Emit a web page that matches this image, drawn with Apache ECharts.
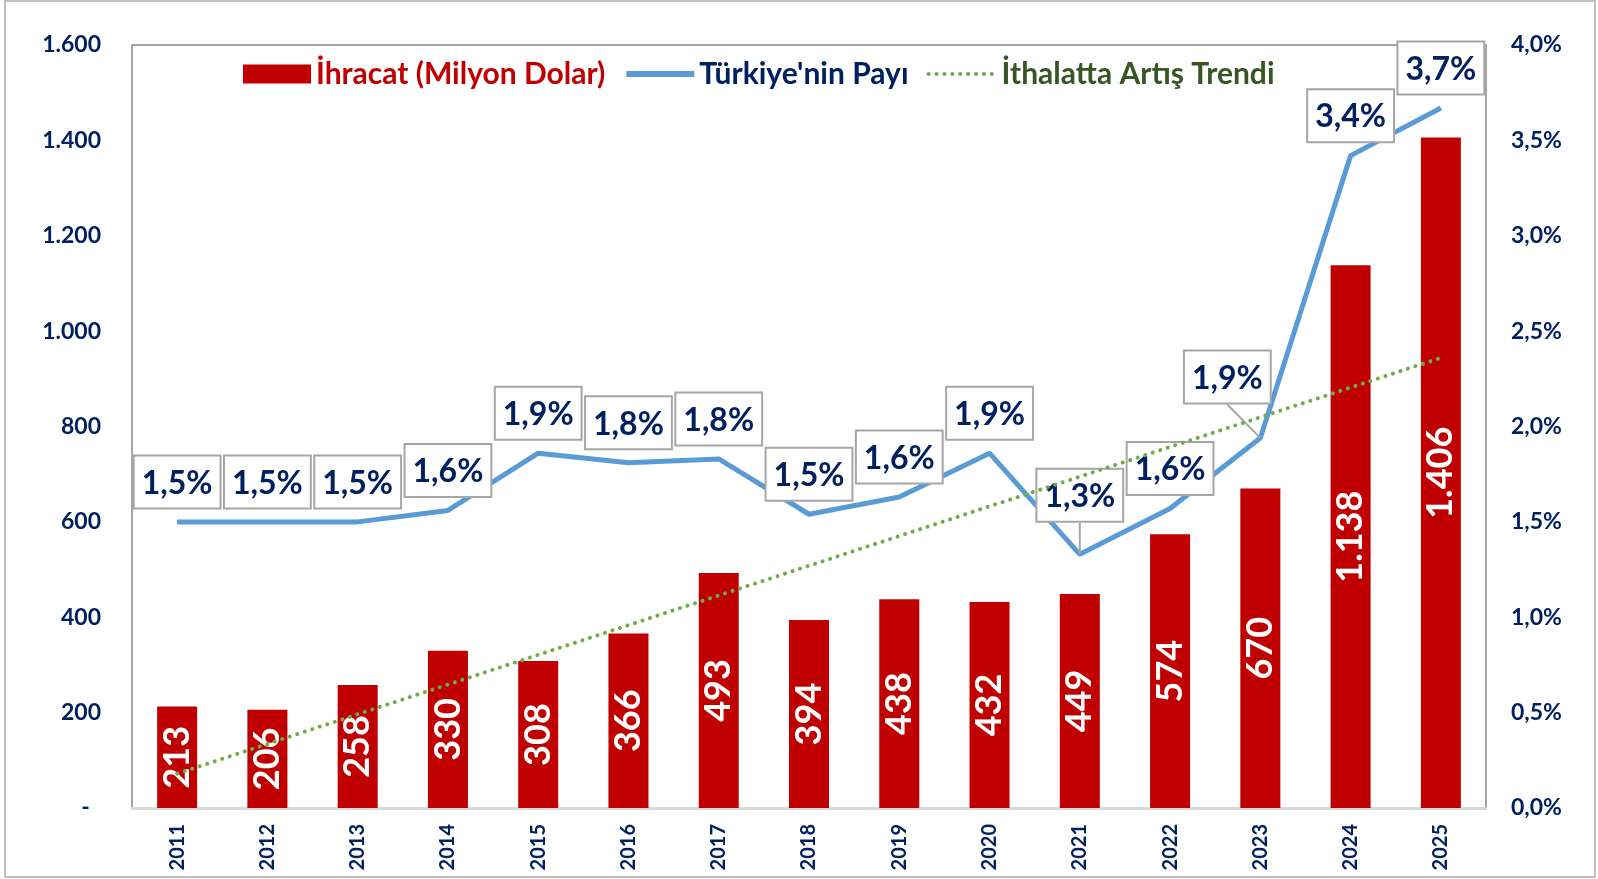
<!DOCTYPE html>
<html>
<head>
<meta charset="utf-8">
<script src="https://cdn.jsdelivr.net/npm/echarts@6/dist/echarts.min.js"></script>
<style>
    html, body { margin: 0; padding: 0; background: #fff; }
    #chart { width: 1598px; height: 879px; }
</style>
</head>
<body>
<div id="chart"></div>
<script>
// Data
const years = ['2011', '2012', '2013', '2014', '2015', '2016', '2017', '2018', '2019', '2020', '2021', '2022', '2023', '2024', '2025'];
const exportValues = [213, 206, 258, 330, 308, 366, 493, 394, 438, 432, 449, 574, 670, 1138, 1406];
const shareValues = [1.50, 1.50, 1.50, 1.56, 1.86, 1.81, 1.83, 1.54, 1.63, 1.86, 1.33, 1.57, 1.94, 3.42, 3.67];
const trendEnds = [['2011', 72], ['2025', 944]];

const leftTicks = { min: 0, max: 1600, interval: 200 };
const rightTicks = { min: 0, max: 4, interval: 0.5 };

const NAVY = '#002060';
const RED = '#C00000';
const BLUE = '#5B9BD5';
const GREEN = '#70AD47';
const FONT = 'Lato';

// Excel-like callouts moved off the line for a couple of years (index -> shift)
const labelShifts = { 10: { dx: 0, dy: -19 }, 12: { dx: -33, dy: -21 } };

function thousands(v) {
    return String(v).replace(/\B(?=(\d{3})+(?!\d))/g, '.');
}

function pct(v) {
    return v.toFixed(1).replace('.', ',') + '%';
}

// only the moved callouts get a leader line
const shareData = shareValues.map((v, i) => labelShifts[i]
    ? { value: v, labelLine: { show: true } }
    : v);

const chart = echarts.init(document.getElementById('chart'));

chart.setOption({
    animation: false,
    textStyle: { fontFamily: FONT },
    graphic: [{
        type: 'rect',
        shape: { x: 5, y: 1, width: 1590, height: 876 },
        style: { fill: 'none', stroke: '#BFBFBF', lineWidth: 2 },
        silent: true
    }],
    legend: {
        left: 238,
        top: 54,
        itemWidth: 68,
        itemHeight: 19,
        itemGap: 18,
        textStyle: { fontFamily: FONT, fontSize: 30, fontWeight: 'bold' },
        data: [
            { name: 'İhracat (Milyon Dolar)', icon: 'rect', textStyle: { color: RED } },
            { name: "Türkiye'nin Payı", itemStyle: { opacity: 0 }, lineStyle: { width: 6 }, textStyle: { color: NAVY } },
            { name: 'İthalatta Artış Trendi', itemStyle: { opacity: 0 }, lineStyle: { width: 4 }, textStyle: { color: '#375623' } }
        ]
    },
    grid: {
        left: 132, right: 112, top: 45, bottom: 71,
        show: true,
        borderColor: '#A6A6A6',
        borderWidth: 2
    },
    xAxis: {
        type: 'category',
        data: years,
        axisTick: { show: false },
        axisLine: { lineStyle: { color: '#D9D9D9', width: 3 } },
        axisLabel: {
            rotate: 90,
            margin: 16,
            fontFamily: FONT,
            fontSize: 20,
            fontWeight: 'bold',
            color: NAVY
        }
    },
    yAxis: [{
        type: 'value',
        min: leftTicks.min,
        max: leftTicks.max,
        interval: leftTicks.interval,
        splitLine: { show: false },
        axisLine: { show: false },
        axisTick: { show: false },
        axisLabel: {
            margin: 31,
            fontFamily: FONT,
            fontSize: 23,
            fontWeight: 'bold',
            color: NAVY,
            formatter: v => v === 0 ? '-  ' : thousands(v)
        }
    }, {
        type: 'value',
        min: rightTicks.min,
        max: rightTicks.max,
        interval: rightTicks.interval,
        splitLine: { show: false },
        axisLine: { show: false },
        axisTick: { show: false },
        axisLabel: {
            margin: 25,
            fontFamily: FONT,
            fontSize: 23,
            fontWeight: 'bold',
            color: NAVY,
            formatter: v => pct(v)
        }
    }],
    series: [{
        name: 'İhracat (Milyon Dolar)',
        type: 'bar',
        data: exportValues,
        barWidth: 40,
        z: 2,
        itemStyle: { color: RED },
        label: {
            show: true,
            position: 'inside',
            rotate: 90,
            fontFamily: FONT,
            fontSize: 36,
            fontWeight: 'bold',
            color: '#fff',
            formatter: p => thousands(p.value)
        }
    }, {
        name: "Türkiye'nin Payı",
        type: 'line',
        yAxisIndex: 1,
        data: shareData,
        z: 4,
        symbol: 'circle',
        symbolSize: 1,
        itemStyle: { color: BLUE },
        lineStyle: { color: BLUE, width: 5 },
        label: {
            show: true,
            position: 'top',
            distance: 14,
            fontFamily: FONT,
            fontSize: 32,
            lineHeight: 36,
            fontWeight: 'bold',
            color: NAVY,
            backgroundColor: '#fff',
            borderColor: '#A6A6A6',
            borderWidth: 2,
            padding: [9, 7, 6, 7],
            formatter: p => pct(p.value)
        },
        labelLayout: p => labelShifts[p.dataIndex] || {},
        labelLine: {
            show: false,
            lineStyle: { color: '#A6A6A6', width: 2 }
        }
    }, {
        name: 'İthalatta Artış Trendi',
        type: 'line',
        data: trendEnds,
        z: 5,
        symbol: 'none',
        itemStyle: { color: GREEN },
        lineStyle: { color: GREEN, width: 4, type: [0.1, 7.8], cap: 'round' }
    }]
});
</script>
</body>
</html>
